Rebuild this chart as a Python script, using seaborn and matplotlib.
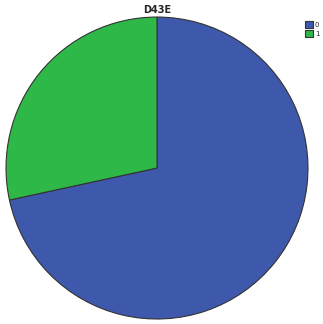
import matplotlib
matplotlib.use("Agg")
import matplotlib.pyplot as plt
import seaborn as sns

# slice values (percent)
categories = ["0", "1"]
shares = [71.6, 28.4]
colors = ["#3E58AC", "#2EB848"]

sns.set_style("white")
plt.rcParams['font.family'] = ['DejaVu Sans']

fig = plt.figure(figsize=(3.23, 3.24), dpi=100)
ax = fig.add_axes([0.0186, 0.0154, 0.935, 0.932])
wedges, _ = ax.pie(shares, colors=colors, startangle=90, counterclock=False,
                   wedgeprops=dict(edgecolor="#333333", linewidth=0.8))
ax.set_aspect("equal")
ax.set_xlim(-1.0, 1.0)
ax.set_ylim(-1.0, 1.0)
ax.axis("off")

fig.text(0.486, 0.968, "D43E", ha="center", va="center", fontsize=7, fontweight="bold")
fig.legend(wedges, categories, loc="upper left", bbox_to_anchor=(0.935, 0.945),
           frameon=False, fontsize=5, handlelength=1.1, handleheight=1.1,
           handletextpad=0.25, labelspacing=0.35, borderpad=0)

fig.savefig("out.png", dpi=100)
